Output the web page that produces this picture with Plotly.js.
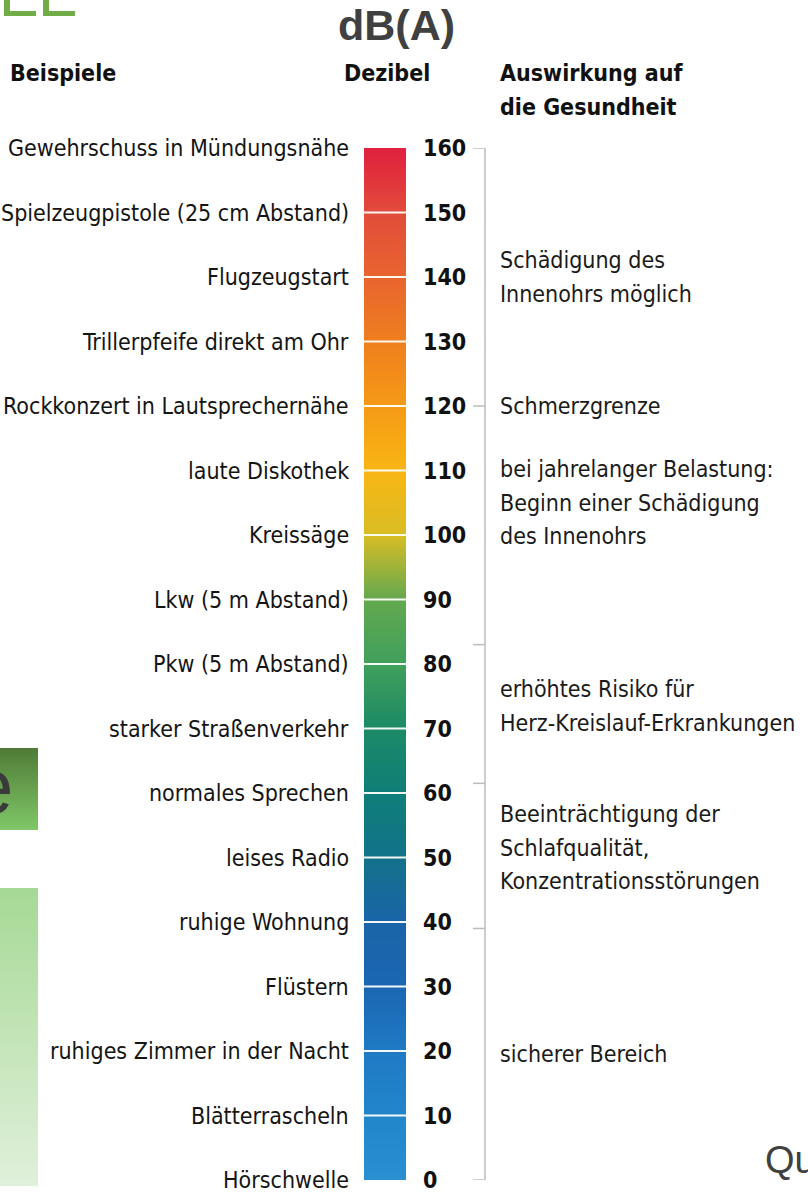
<!DOCTYPE html>
<html>
<head>
<meta charset="utf-8">
<script src="https://cdn.plot.ly/plotly-3.0.1.min.js"></script>
<style>html,body{margin:0;padding:0;background:#fff;}#chart{width:808px;height:1197px;}</style>
</head>
<body>
<div id="chart"></div>
<script>
// ---- data ----
const levels = [0, 10, 20, 30, 40, 50, 60, 70, 80, 90, 100, 110, 120, 130, 140, 150, 160];
const examples = [
  "Hörschwelle", "Blätterrascheln", "ruhiges Zimmer in der Nacht", "Flüstern",
  "ruhige Wohnung", "leises Radio", "normales Sprechen", "starker Straßenverkehr",
  "Pkw (5 m Abstand)", "Lkw (5 m Abstand)", "Kreissäge", "laute Diskothek",
  "Rockkonzert in Lautsprechernähe", "Trillerpfeife direkt am Ohr", "Flugzeugstart",
  "Spielzeugpistole (25 cm Abstand)", "Gewehrschuss in Mündungsnähe"
];
const levelColors = [
  "#2a90d2", "#2286cb", "#1f7ac4", "#1b66b2", "#1a64a8", "#13728a", "#0f7e78", "#1c8a66",
  "#40a05c", "#62a84f", "#d8bd25", "#f8b614", "#f59a16", "#ef7f1e", "#e8652f", "#e24c3a", "#e0203f"
];
const bracketTicks = [160, 120, 83, 61.5, 39, 0];
const effects = [
  ["Schädigung des", "Innenohrs möglich"],
  ["Schmerzgrenze"],
  ["bei jahrelanger Belastung:", "Beginn einer Schädigung", "des Innenohrs"],
  ["erhöhtes Risiko für", "Herz-Kreislauf-Erkrankungen"],
  ["Beeinträchtigung der", "Schlafqualität,", "Konzentrationsstörungen"],
  ["sicherer Bereich"]
];
const effectLevels = [140, 120, 105, 73.5, 51.5, 19.5];
const headers = {examples: "Beispiele", db: "Dezibel", effects: ["Auswirkung auf", "die Gesundheit"]};
const unitTitle = "dB(A)";

// ---- layout helpers ----
const W = 808, H = 1197, TOP = 148, BOT = 1180;
const FONT = "DejaVu Sans Condensed, Liberation Sans Narrow, sans-serif";
const py = p => (BOT - p) / (BOT - TOP); // pixel y -> paper y

const lo = levels[0], hi = levels[levels.length - 1];
const colorscale = levels.map((l, i) => [(l - lo) / (hi - lo), levelColors[i]]);

const traces = [{
  type: "heatmap",
  x: [364, 385, 406],
  y: levels,
  z: levels.map(l => [l, l]),
  zmin: lo, zmax: hi,
  colorscale: colorscale,
  zsmooth: "best",
  showscale: false,
  hoverinfo: "skip"
}];

const annotations = [];
const shapes = [];

// separators on the bar
levels.slice(1, -1).forEach(l => {
  shapes.push({type: "line", xref: "x", yref: "y", x0: 364, x1: 406, y0: l, y1: l,
    line: {color: "rgba(255,255,250,0.95)", width: 2}});
});

// example labels and dB numbers
levels.forEach((l, i) => {
  annotations.push({xref: "x", yref: "y", x: 351, y: l, xanchor: "right", yanchor: "middle",
    text: examples[i], showarrow: false, font: {family: FONT, size: 23, color: "#141414"}});
  annotations.push({xref: "x", yref: "y", x: 421, y: l, xanchor: "left", yanchor: "middle",
    text: "<b>" + l + "</b>", showarrow: false, font: {family: FONT, size: 23, color: "#111"}});
});

// bracket
shapes.push({type: "line", xref: "x", yref: "y", x0: 485, x1: 485,
  y0: bracketTicks[0], y1: bracketTicks[bracketTicks.length - 1],
  line: {color: "#bdbdbd", width: 1.5}});
bracketTicks.forEach(t => {
  shapes.push({type: "line", xref: "x", yref: "y", x0: 473, x1: 485, y0: t, y1: t,
    line: {color: "#bdbdbd", width: 1.5}});
});

// effect texts
const LH = 33.5;
effects.forEach((lines, k) => {
  const mid = (lines.length - 1) / 2;
  lines.forEach((t, i) => {
    annotations.push({xref: "x", yref: "y", x: 498, y: effectLevels[k], xanchor: "left", yanchor: "middle",
      yshift: (mid - i) * LH, text: t, showarrow: false,
      font: {family: FONT, size: 23, color: "#1a1a1a"}});
  });
});

// headers
annotations.push({xref: "x", yref: "paper", x: 8, y: py(73), xanchor: "left", yanchor: "middle",
  text: "<b>" + headers.examples + "</b>", showarrow: false, font: {family: FONT, size: 23, color: "#111"}});
annotations.push({xref: "x", yref: "paper", x: 432, y: py(73), xanchor: "right", yanchor: "middle",
  text: "<b>" + headers.db + "</b>", showarrow: false, font: {family: FONT, size: 23, color: "#111"}});
headers.effects.forEach((t, i) => {
  annotations.push({xref: "x", yref: "paper", x: 498, y: py(73 + i * 34), xanchor: "left", yanchor: "middle",
    text: "<b>" + t + "</b>", showarrow: false, font: {family: FONT, size: 23, color: "#111"}});
});
annotations.push({xref: "x", yref: "paper", x: 396, y: py(25), xanchor: "center", yanchor: "middle",
  text: "<b>" + unitTitle + "</b>", showarrow: false,
  font: {family: "Liberation Sans, Arial, sans-serif", size: 43, color: "#404040"}});

// slide fragments (background decoration)
const green = "#70ad47";
[[4, 10, 0, 16], [4, 36, 11, 16], [43, 49, 0, 16], [43, 75, 11, 16]].forEach(r => {
  shapes.push({type: "rect", xref: "x", yref: "paper", x0: r[0], x1: r[1], y0: py(r[2]), y1: py(r[3]),
    fillcolor: green, line: {width: 0}, layer: "below"});
});
function gradImg(c1, c2) {
  const svg = "<svg xmlns='http://www.w3.org/2000/svg' width='10' height='100' preserveAspectRatio='none'>" +
    "<defs><linearGradient id='g' x1='0' y1='0' x2='0' y2='1'><stop offset='0' stop-color='" + c1 +
    "'/><stop offset='1' stop-color='" + c2 + "'/></linearGradient></defs>" +
    "<rect width='10' height='100' fill='url(#g)'/></svg>";
  return "data:image/svg+xml;charset=utf-8," + encodeURIComponent(svg);
}
const images = [
  {source: gradImg("#4f7b36", "#80c768"), xref: "x", yref: "paper", x: 0, y: py(748),
   sizex: 38, sizey: (830 - 748) / (BOT - TOP), sizing: "stretch", xanchor: "left", yanchor: "top", layer: "below"},
  {source: gradImg("#a6d995", "#e0f0db"), xref: "x", yref: "paper", x: 0, y: py(888),
   sizex: 38, sizey: (1186 - 888) / (BOT - TOP), sizing: "stretch", xanchor: "left", yanchor: "top", layer: "below"}
];
annotations.push({xref: "x", yref: "paper", x: 15, y: py(786), xanchor: "right", yanchor: "middle",
  text: "e", showarrow: false, font: {family: "Liberation Sans, Arial, sans-serif", size: 78, color: "#3a3a3a"}});
annotations.push({xref: "x", yref: "paper", x: 763, y: py(1160), xanchor: "left", yanchor: "middle",
  text: "Qu", showarrow: false, font: {family: "Liberation Sans, Arial, sans-serif", size: 38, color: "#404040"}});

const layout = {
  width: W, height: H,
  margin: {l: 0, r: 0, t: TOP, b: H - BOT, pad: 0},
  paper_bgcolor: "#fff", plot_bgcolor: "rgba(0,0,0,0)",
  xaxis: {range: [0, W], visible: false, fixedrange: true},
  yaxis: {range: [lo, hi], visible: false, fixedrange: true},
  showlegend: false,
  annotations: annotations, shapes: shapes, images: images
};
Plotly.newPlot("chart", traces, layout, {staticPlot: true, displayModeBar: false});
</script>
</body>
</html>
